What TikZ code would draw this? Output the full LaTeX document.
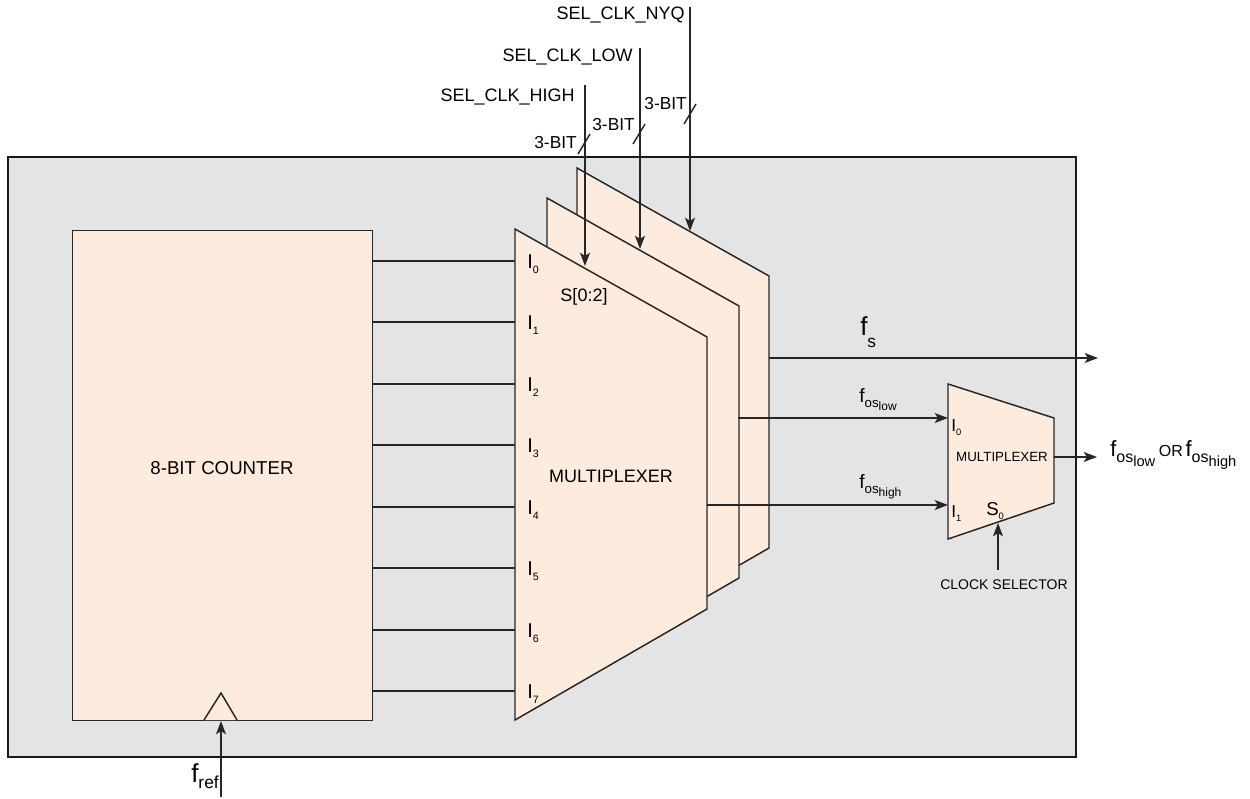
\documentclass[tikz,border=0pt]{standalone}
\usepackage{fontspec}
\setmainfont{Liberation Sans}
\usetikzlibrary{arrows.meta}
\definecolor{boxgray}{RGB}{228,228,228}
\definecolor{peach}{RGB}{253,235,221}
\newcommand{\fz}[1]{\fontsize{#1}{#1}\selectfont}
\newcommand{\lowr}[2]{\raisebox{-#1}{#2}}
\begin{document}
\begin{tikzpicture}[x=0.75pt,y=-0.75pt,
  wire/.style={line width=1.1pt, draw=black!85},
  arr/.style={wire, -{Stealth[length=10pt,width=7.5pt,inset=2.5pt]}},
  block/.style={fill=peach, draw=black!85, line width=1.1pt},
  lbl/.style={inner sep=0pt, font=\fz{13.5}},
  inlbl/.style={inner sep=0pt, anchor=base west, font=\fz{15}},
]
\useasboundingbox (0,0) rectangle (1250,799);
% outer box
\draw[fill=boxgray, draw=black!90, line width=1.5pt] (8,157) rectangle (1076,757);
% counter
\node (counter) [block, anchor=north west, minimum width=225pt, minimum height=367.5pt, inner sep=0pt] at (72,230) {};
\node (ctext) [lbl, font=\fz{14}] at (222,468) {8-BIT COUNTER};
\draw[block] (204,720) -- (221,693) -- (237,720);
% multiplexers (back to front)
\foreach \dx/\dy/\n in {62/-61/c, 32/-31/b, 0/0/a}{
  \draw[block] (515+\dx,229+\dy) coordinate (m\n-tl) -- (707+\dx,337+\dy) coordinate (m\n-tr)
     -- (707+\dx,609+\dy) coordinate (m\n-br) -- (515+\dx,720+\dy) coordinate (m\n-bl) -- cycle;
}
\node (sel) [lbl] at (584,297) {S[0:2]};
\node (mtext) [lbl] at (611,476) {MULTIPLEXER};
% inputs
\foreach \k/\y in {0/261,1/322,2/384,3/445,4/507,5/568,6/630,7/691}{
  \coordinate (o\k) at (372,\y);
  \coordinate (i\k) at (515,\y);
  \draw[wire] (o\k) -- (i\k);
  \node (il\k) [inlbl] at (527,\y+7) {I\lowr{3.8pt}{\fz{8}\k}};
}
% select lines
\coordinate (shigh) at (585,85);
\coordinate (slow) at (640,48);
\coordinate (snyq) at (690,7);
\coordinate (thigh) at (585,266);
\coordinate (tlow) at (640,249);
\coordinate (tnyq) at (690,231);
\draw[arr] (shigh) -- (thigh);
\draw[arr] (slow) -- (tlow);
\draw[arr] (snyq) -- (tnyq);
\node (nhigh) [lbl, anchor=east] at (575,97) {SEL\_CLK\_HIGH};
\node (nlow) [lbl, anchor=east] at (633,57) {SEL\_CLK\_LOW};
\node (nnyq) [lbl, anchor=east] at (685,15) {SEL\_CLK\_NYQ};
\draw[wire] (578,154) -- (590,134);
\draw[wire] (633,144) -- (645,124);
\draw[wire] (684,124) -- (696,104);
\node (b1) [lbl, anchor=east, font=\fz{13}] at (577,143) {3-BIT};
\node (b2) [lbl, anchor=east, font=\fz{13}] at (635,125) {3-BIT};
\node (b3) [lbl, anchor=east, font=\fz{13}] at (687,104) {3-BIT};
% outputs
\coordinate (fsa) at (769,358);
\coordinate (fsb) at (1098,358);
\draw[arr] (fsa) -- (fsb);
\node (fsl) [inner sep=0pt, anchor=base west] at (860,335) {\fz{19.5}f\lowr{9pt}{\fz{13}s}};
% small mux
\draw[block] (948,384) coordinate (n-tl) -- (1054,418) coordinate (n-tr) -- (1054,503) coordinate (n-br) -- (948,539) coordinate (n-bl) -- cycle;
\node (ntext) [inner sep=0pt, font=\fz{10}] at (1002,457) {MULTIPLEXER};
\node (ni0) [inner sep=0pt, anchor=base west, font=\fz{13}] at (951,431) {I\lowr{3.5pt}{\fz{7}0}};
\node (ni1) [inner sep=0pt, anchor=base west, font=\fz{13}] at (951,517) {I\lowr{3.5pt}{\fz{7}1}};
\node (ns0) [inner sep=0pt, anchor=base west, font=\fz{14}] at (986,515) {S\lowr{3.5pt}{\fz{7}0}};
\coordinate (lowa) at (738,418);
\coordinate (higha) at (707,505);
\coordinate (lowb) at (948,418);
\coordinate (highb) at (948,505);
\draw[arr] (lowa) -- (lowb);
\draw[arr] (higha) -- (highb);
\node (flow) [inner sep=0pt, anchor=base west] at (859,402) {\fz{14.5}f\lowr{4pt}{\fz{10}os\lowr{2.5pt}{\fz{9}low}}};
\node (fhigh) [inner sep=0pt, anchor=base west] at (859,488) {\fz{14.5}f\lowr{4pt}{\fz{10}os\lowr{2.5pt}{\fz{9}high}}};
\coordinate (csa) at (998,570);
\coordinate (csb) at (998,523);
\draw[arr] (csa) -- (csb);
\node (cs) [inner sep=0pt, font=\fz{10.5}] at (1004,585) {CLOCK SELECTOR};
\coordinate (outa) at (1054,457);
\coordinate (outb) at (1097,457);
\draw[arr] (outa) -- (outb);
\node (outl) [inner sep=0pt, anchor=base west] at (1110,456) {\fz{16.5}f\lowr{5pt}{\fz{12}os\lowr{3pt}{\fz{11}low}}\,\fz{12}OR\,\fz{16.5}f\lowr{5pt}{\fz{12}os\lowr{3pt}{\fz{11}high}}};
% f_ref
\coordinate (refa) at (221,797);
\coordinate (refb) at (221,721);
\draw[arr] (refa) -- (refb);
\node (fref) [inner sep=0pt, anchor=base west] at (191,782) {\fz{19.5}f\lowr{5pt}{\fz{13}ref}};
\end{tikzpicture}
\end{document}
